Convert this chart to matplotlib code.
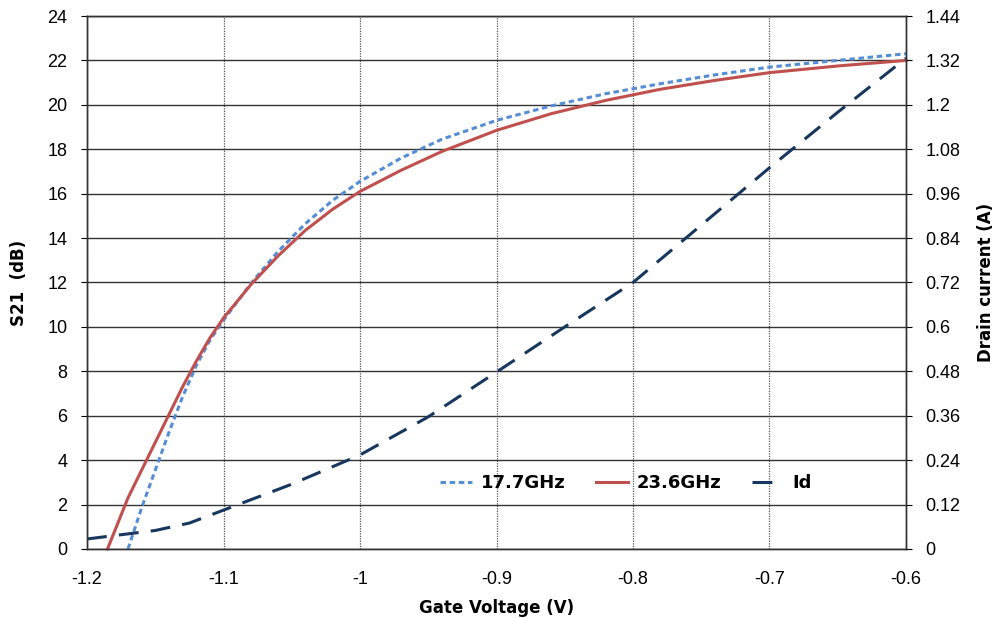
import matplotlib
matplotlib.use("Agg")
import matplotlib.pyplot as plt

plt.rcParams["font.family"] = ["Liberation Sans", "DejaVu Sans"]
plt.rcParams["axes.unicode_minus"] = False

# ── data ──────────────────────────────────────────────────────────────────────
v_177 = [-1.17, -1.16, -1.15, -1.14, -1.13, -1.12, -1.11, -1.1, -1.08, -1.06, -1.04,
         -1.02, -1.0, -0.97, -0.94, -0.9, -0.86, -0.82, -0.78, -0.74, -0.7, -0.65, -0.6]
s21_177 = [0, 1.85, 3.55, 5.25, 6.85, 8.25, 9.4, 10.3, 11.95, 13.4, 14.65,
           15.7, 16.55, 17.6, 18.45, 19.3, 19.95, 20.5, 20.95, 21.35, 21.7, 22.0, 22.3]

v_236 = [-1.185, -1.17, -1.16, -1.15, -1.14, -1.13, -1.12, -1.11, -1.1, -1.08, -1.06, -1.04,
         -1.02, -1.0, -0.97, -0.94, -0.9, -0.86, -0.82, -0.78, -0.74, -0.7, -0.65, -0.6]
s21_236 = [0, 2.3, 3.55, 4.8, 6.05, 7.3, 8.45, 9.5, 10.4, 11.9, 13.2, 14.35,
           15.3, 16.1, 17.05, 17.9, 18.85, 19.6, 20.2, 20.7, 21.1, 21.45, 21.75, 22.0]

v_id = [-1.2, -1.15, -1.125, -1.1, -1.05, -1.0, -0.95, -0.9, -0.85, -0.8, -0.75, -0.7, -0.65, -0.6]
i_d = [0.027, 0.05, 0.07, 0.105, 0.175, 0.254, 0.357, 0.478, 0.60, 0.72, 0.875, 1.03, 1.18, 1.326]

x_ticks = [-1.2, -1.1, -1.0, -0.9, -0.8, -0.7, -0.6]
s21_ticks = list(range(0, 25, 2))
id_ticks = [0, 0.12, 0.24, 0.36, 0.48, 0.6, 0.72, 0.84, 0.96, 1.08, 1.2, 1.32, 1.44]

heavy = {"family": "DejaVu Sans", "weight": "bold"}

# ── figure ────────────────────────────────────────────────────────────────────
fig = plt.figure(figsize=(9.98, 6.18), dpi=100)
ax = fig.add_axes([0.0872, 0.1117, 0.8206, 0.8624])
ax2 = ax.twinx()

ax.set_xlim(-1.2, -0.6)
ax.set_ylim(0, 24)
ax2.set_ylim(0, 1.44)

ax.set_xticks(x_ticks)
ax.set_xticklabels([f"{v:g}" for v in x_ticks])
ax.set_yticks(s21_ticks)
ax2.set_yticks(id_ticks)
ax2.set_yticklabels([f"{v:g}" for v in id_ticks])

ax.grid(axis="y", color="#333333", lw=1.0, ls="-")
ax.grid(axis="x", color="#555555", lw=0.9, ls=(0, (1, 1)))
ax.set_axisbelow(True)

for a in (ax, ax2):
    for s in a.spines.values():
        s.set_color("#333333")
        s.set_linewidth(1.0)

ax.tick_params(axis="x", length=0, pad=16, labelsize=13)
ax.tick_params(axis="y", length=4, direction="out", pad=10, labelsize=13)
ax2.tick_params(axis="y", length=4, direction="out", pad=10, labelsize=13)

l1, = ax.plot(v_177, s21_177, color="#558ED5", lw=2.2, dashes=(1.8, 1.2),
              label="17.7GHz", clip_on=False)
l2, = ax.plot(v_236, s21_236, color="#C0504D", lw=2.2, label="23.6GHz", clip_on=False)
l3, = ax2.plot(v_id, i_d, color="#17375E", lw=2.2, dashes=(6.5, 4), label="Id")

ax.set_xlabel("Gate Voltage (V)", fontsize=12, labelpad=8, **heavy)
ax.set_ylabel("S21  (dB)", fontsize=12, labelpad=14, **heavy)
ax2.set_ylabel("Drain current (A)", fontsize=12, labelpad=12, **heavy)

leg = ax.legend(handles=[l1, l2, l3], loc="center", bbox_to_anchor=(0.658, 0.124),
                ncol=3, frameon=False, handlelength=1.8, handletextpad=0.45,
                columnspacing=1.7, prop={"size": 13, "weight": "bold", "family": "DejaVu Sans"})

fig.savefig("out.png", dpi=100)
